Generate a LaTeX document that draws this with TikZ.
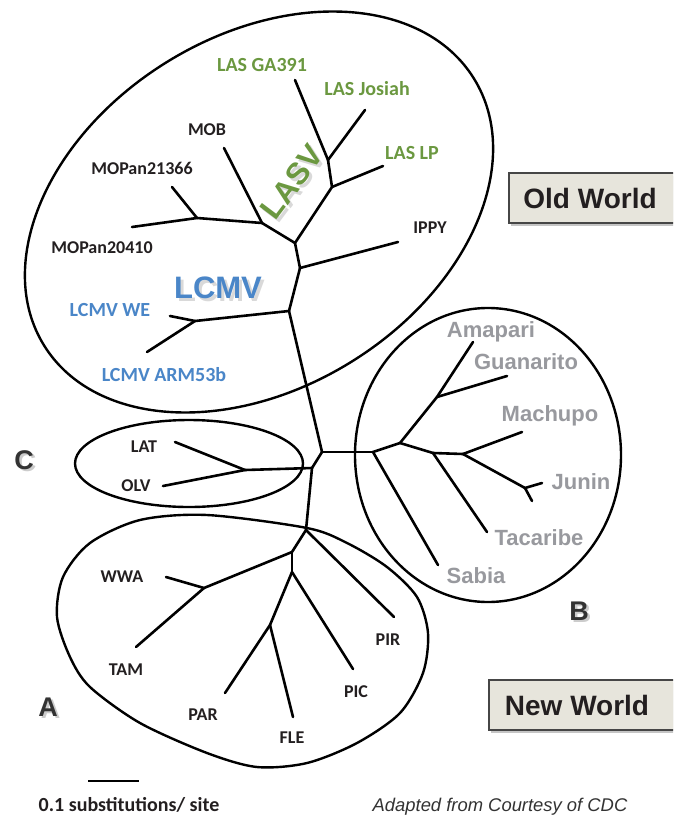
\documentclass[tikz,border=0pt]{standalone}
\usepackage{fontspec}
\setmainfont{Carlito}
\newfontfamily\arialfont{Liberation Sans}
\usetikzlibrary{shadows}
\definecolor{lasgreen}{RGB}{107,152,64}
\definecolor{lcmvblue}{RGB}{74,134,200}
\definecolor{nwgray}{RGB}{152,153,158}
\definecolor{labelblack}{RGB}{35,31,32}
\definecolor{boxfill}{RGB}{231,229,220}
\definecolor{boxline}{RGB}{70,70,70}
\begin{document}
\begin{tikzpicture}[x=1pt,y=-1pt,
  branch/.style={line width=2.6pt,line cap=round,line join=round},
  ring/.style={line width=2.4pt},
  lbl/.style={anchor=base,text=labelblack,font=\bfseries\fontsize{18}{20}\selectfont},
  oldlbl/.style={lbl,font=\bfseries\fontsize{20}{22}\selectfont},
  nwlbl/.style={anchor=base,text=nwgray,font=\arialfont\bfseries\fontsize{22}{24}\selectfont},
  biglbl/.style={font=\arialfont\bfseries\fontsize{31}{33}\selectfont},
  grplbl/.style={anchor=base,text=black!80,font=\arialfont\bfseries\fontsize{27}{29}\selectfont},
  worldbox/.style={draw=boxline,fill=boxfill,line width=1.6pt,minimum width=190pt,minimum height=50pt,
    anchor=west,drop shadow={shadow xshift=2pt,shadow yshift=-3pt,opacity=.45}},
  worldtxt/.style={anchor=base,text=labelblack,font=\arialfont\bfseries\fontsize{28}{30}\selectfont}]
\path[fill=white,use as bounding box] (0,0) rectangle (673,816);
\clip (0,0) rectangle (673,816);

% the three rings and the blob
\draw[ring,rotate around={31.9:(259,212)}] (259,212) ellipse [x radius=253,y radius=176];
\draw[ring] (189,463.5) ellipse [x radius=114,y radius=43.5];
\draw[ring] (488,455) ellipse [x radius=133,y radius=147];
\draw[ring] plot[smooth cycle] coordinates {(307,528) (207,515) (140,520) (90,543) (63,577) (57,617)
  (70,657) (90,687) (140,723) (207,753) (257,767) (307,763) (357,743) (400,713) (423,673) (428,633)
  (417,597) (387,567) (347,543)};

% junctions and tips
\coordinate (r1) at (322,452);  \coordinate (r2) at (312,468);
\coordinate (o1) at (289,311);  \coordinate (o2) at (300,268);  \coordinate (o3) at (295,243);
\coordinate (lc) at (195,321);  \coordinate (lcwet) at (170,316); \coordinate (lcarmt) at (147,352);
\coordinate (ippyt) at (398,242);
\coordinate (mo) at (262,223);  \coordinate (mobt) at (224,148);
\coordinate (mp) at (197,218);  \coordinate (mp21t) at (172,187); \coordinate (mp20t) at (132,227);
\coordinate (la) at (332,187);  \coordinate (lpt) at (383,166);
\coordinate (lb) at (328,160);  \coordinate (gat) at (295,80);  \coordinate (jot) at (365,110);
\coordinate (c0) at (245,470);  \coordinate (latt) at (175,442); \coordinate (olvt) at (163,486);
\coordinate (n0) at (306,530);  \coordinate (pirt) at (394,617);
\coordinate (n1) at (292,552);  \coordinate (n2) at (204,588);
\coordinate (wwat) at (166,577); \coordinate (tamt) at (136,647);
\coordinate (n3) at (292,572);  \coordinate (pict) at (353,669);
\coordinate (n4) at (270,625);  \coordinate (part) at (225,693); \coordinate (flet) at (293,717);
\coordinate (b0) at (373,452);  \coordinate (sabt) at (438,565);
\coordinate (b1) at (400,443);  \coordinate (b2) at (437,397);
\coordinate (amat) at (473,342); \coordinate (guat) at (507,376);
\coordinate (b3) at (433,453);  \coordinate (tact) at (487,532);
\coordinate (b4) at (463,454);  \coordinate (mact) at (522,432);
\coordinate (b5) at (525,488);  \coordinate (juat) at (542,483); \coordinate (jubt) at (532,501);

\foreach \a/\b in {r1/o1,o1/lc,lc/lcwet,lc/lcarmt,o1/o2,o2/ippyt,o2/o3,o3/mo,mo/mobt,mo/mp,
  mp/mp21t,mp/mp20t,o3/la,la/lpt,la/lb,lb/gat,lb/jot,
  r1/b0,r1/r2,r2/c0,c0/latt,c0/olvt,r2/n0,
  n0/pirt,n0/n1,n1/n2,n2/wwat,n2/tamt,n1/n3,n3/pict,n3/n4,n4/part,n4/flet,
  b0/sabt,b0/b1,b1/b2,b2/amat,b2/guat,b1/b3,b3/tact,b3/b4,b4/mact,b4/b5,b5/juat,b5/jubt}
  \draw[branch] (\a) -- (\b);

% Old World labels
\node[oldlbl,text=lasgreen] (ga) at (262,71.5) {LAS GA391};
\node[oldlbl,text=lasgreen] (jo) at (367,95) {LAS Josiah};
\node[oldlbl,text=lasgreen] (lp) at (412,159) {LAS LP};
\node[lbl] (mob) at (207,135) {MOB};
\node[lbl] (mp21) at (142,174) {MOPan21366};
\node[lbl] (mp20) at (102,253) {MOPan20410};
\node[lbl] (ippy) at (430,233) {IPPY};
\node[oldlbl,text=lcmvblue] (lcwe) at (110,316) {LCMV WE};
\node[oldlbl,text=lcmvblue] (lcarm) at (164,381) {LCMV ARM53b};
\node[biglbl,text=black,opacity=.15,rotate=53] at (295,185) {LASV};
\node[biglbl,text=lasgreen,rotate=53] (lasv) at (292,182) {LASV};
\node[biglbl,anchor=base,text=black,opacity=.15] at (221,301) {LCMV};
\node[biglbl,anchor=base,text=lcmvblue] (lcmv) at (218,298) {LCMV};

% C group
\node[lbl] (lat) at (144,452) {LAT};
\node[lbl] (olv) at (136,491) {OLV};
\node[grplbl,text=black,opacity=.2] at (26.5,471.5) {C};
\node[grplbl] (grpc) at (24,469) {C};

% B group
\node[nwlbl] (ama) at (491,337) {Amapari};
\node[nwlbl] (gua) at (526,369) {Guanarito};
\node[nwlbl] (mac) at (550,421) {Machupo};
\node[nwlbl] (jun) at (581,489) {Junin};
\node[nwlbl] (tac) at (539,545) {Tacaribe};
\node[nwlbl] (sab) at (476,583) {Sabia};
\node[grplbl,text=black,opacity=.2] at (581.5,622.5) {B};
\node[grplbl] (grpb) at (579,620) {B};

% A group
\node[lbl] (wwa) at (122,582) {WWA};
\node[lbl] (tam) at (126,675) {TAM};
\node[lbl] (par) at (203,720) {PAR};
\node[lbl] (fle) at (292,743) {FLE};
\node[lbl] (pic) at (356,697) {PIC};
\node[lbl] (pir) at (388,645) {PIR};
\node[grplbl,text=black,opacity=.2] at (50.5,718.5) {A};
\node[grplbl] (grpa) at (48,716) {A};

% world boxes
\node[worldbox] (oldbox) at (508,198) {};
\node[worldtxt] (oldw) at (590,208) {Old World};
\node[worldbox] (newbox) at (488,705) {};
\node[worldtxt] (neww) at (577,715) {New World};

% scale and credit
\coordinate (sbl) at (88,781); \coordinate (sbr) at (139,781);
\draw[line width=2.6pt] (sbl) -- (sbr);
\node[lbl,font=\bfseries\fontsize{20}{22}\selectfont] (scale) at (129,811) {0.1 substitutions/ site};
\node[anchor=base,text=black!80,font=\arialfont\itshape\fontsize{18.4}{20}\selectfont] (credit) at (500,811)
  {Adapted from Courtesy of CDC};
\end{tikzpicture}
\end{document}
